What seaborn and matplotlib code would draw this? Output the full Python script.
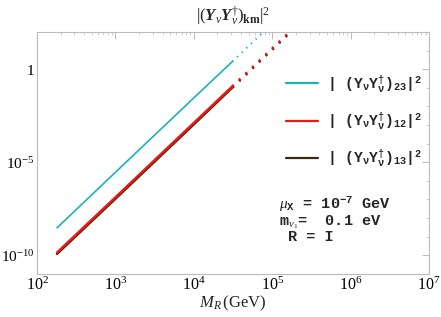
import numpy as np
import pandas as pd
import matplotlib
matplotlib.use('Agg')
import matplotlib.pyplot as plt
import matplotlib.ticker as mticker
import seaborn as sns

# values (log-log, slope ~4)
mr_solid = [180, 1e3, 1e4, 3.1e4]
y23_solid = [3.0e-9, 2.9e-6, 2.9e-2, 2.6]
y12_solid = [1.4e-10, 1.3e-7, 1.3e-3, 0.12]
y13_solid = [1.2e-10, 1.1e-7, 1.1e-3, 0.105]

mr_dot = [3.1e4, 1e5, 2e5]
y23_dot = [2.6, 290, 4600]
y12_dot = [0.12, 13, 210]
y13_dot = [0.105, 11.5, 185]

xtick_vals = [1e2, 1e3, 1e4, 1e5, 1e6, 1e7]
xtick_labels = ['$10^{2}$', '$10^{3}$', '$10^{4}$', '$10^{5}$', '$10^{6}$', '$10^{7}$']
ytick_vals = [1e-10, 1e-5, 1]
ytick_labels = ['$10^{-10}$', '$10^{-5}$', '$1$']


def yy_label(ij):
    return r'| ($\mathtt{Y_{\nu}Y_{\nu}^{\dagger}}$)$_{\mathtt{' + ij + r'}}$|$^{\mathtt{2}}$'


labels = {k: yy_label(k) for k in ['23', '12', '13']}
colors = {'23': '#1fb2b2', '12': '#ee1515', '13': '#3a2a08'}

sns.set_theme(style='white')
plt.rcParams['font.family'] = ['Liberation Serif', 'DejaVu Serif']
plt.rcParams['mathtext.fontset'] = 'custom'
plt.rcParams['mathtext.rm'] = 'Liberation Serif'
plt.rcParams['mathtext.it'] = 'Liberation Serif:italic'
plt.rcParams['mathtext.bf'] = 'Liberation Serif:bold'
plt.rcParams['mathtext.bfit'] = 'Liberation Serif:italic:bold'
plt.rcParams['mathtext.tt'] = 'Liberation Mono:bold'

solid = pd.DataFrame({'mr': mr_solid, '23': y23_solid, '12': y12_solid, '13': y13_solid})
dotted = pd.DataFrame({'mr': mr_dot, '23': y23_dot, '12': y12_dot, '13': y13_dot})

fig = plt.figure(figsize=(4.41, 3.17), dpi=100)
ax = fig.add_axes([0.084, 0.136, 0.889, 0.763])

widths = {'23': 1.2, '12': 1.8, '13': 1.8}
for key in ['13', '12', '23']:
    sns.lineplot(data=solid, x='mr', y=key, ax=ax, color=colors[key], lw=widths[key],
                 label=labels[key])
    sns.lineplot(data=dotted, x='mr', y=key, ax=ax, color=colors[key], lw=widths[key] + 0.2,
                 linestyle=(0, (0.7, 2.6)), label='_nolegend_')

ax.set_xscale('log')
ax.set_yscale('log')
ax.set_xlim(1e2, 1e7)
ax.set_ylim(1e-11, 1e2)

ax.set_xticks(xtick_vals)
ax.set_xticklabels(xtick_labels, fontsize=11.5)
ax.xaxis.set_minor_locator(mticker.LogLocator(base=10, subs=np.arange(2, 10)))
ax.xaxis.set_minor_formatter(mticker.NullFormatter())
ax.set_yticks(ytick_vals)
ax.set_yticklabels(ytick_labels, fontsize=11)
ax.yaxis.set_minor_locator(mticker.FixedLocator([10.0 ** k for k in range(-11, 3)]))
ax.yaxis.set_minor_formatter(mticker.NullFormatter())

ax.tick_params(which='both', direction='in', top=True, right=True, colors='#bbbbbb',
               labelcolor='black', pad=2)
ax.tick_params(which='major', length=5, width=0.7)
ax.tick_params(which='minor', length=2.5, width=0.5)
for s in ax.spines.values():
    s.set_color('#bbbbbb')
    s.set_linewidth(0.8)

ax.set_xlabel(r'$M_R\,$(GeV)', fontsize=12, labelpad=0)
ax.set_ylabel('')
ax.set_title(r'$|(\mathbfit{Y}_{\nu}\mathbfit{Y}_{\nu}^{\dagger})_{\mathbf{km}}|^{2}$',
             fontsize=12, pad=8)

handles, labs = ax.get_legend_handles_labels()
order = [labs.index(labels[k]) for k in ['23', '12', '13']]
leg = ax.legend([handles[i] for i in order], [labs[i] for i in order], loc='upper right',
                bbox_to_anchor=(1.015, 0.885), frameon=False, labelspacing=1.05,
                handlelength=2.2, handletextpad=0.6,
                prop={'family': 'Liberation Mono', 'weight': 'bold', 'size': 10.5})
for h in leg.get_lines():
    h.set_linewidth(1.6)

txt = dict(transform=ax.transAxes, fontsize=11, family='Liberation Mono', weight='bold',
           va='center')
ax.text(0.617, 0.285, r'$\mu_{\mathtt{X}}$ = 10$^{\mathtt{-7}}$ GeV', **txt)
ax.text(0.617, 0.215, r'm$_{\nu_{1}}$=  0.1 eV', **txt)
ax.text(0.64, 0.153, 'R = I', **txt)

fig.savefig('out.png', dpi=100)
